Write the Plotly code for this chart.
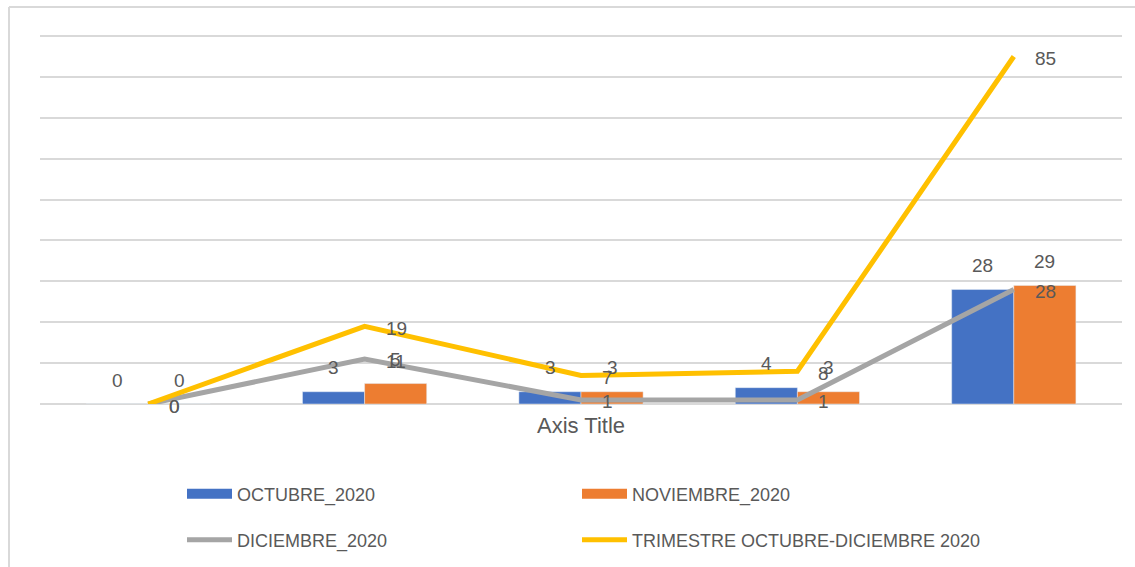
import plotly.graph_objects as go

categories = ["C1", "C2", "C3", "C4", "C5"]
octubre = [0, 3, 3, 4, 28]
noviembre = [0, 5, 3, 3, 29]
diciembre = [0, 11, 1, 1, 28]
trimestre = [0, 19, 7, 8, 85]

names = ["OCTUBRE_2020", "NOVIEMBRE_2020", "DICIEMBRE_2020", "TRIMESTRE OCTUBRE-DICIEMBRE 2020"]
colors = ["#4472C4", "#ED7D31", "#A5A5A5", "#FFC000"]
TXT = "#595959"
FONT = "Liberation Sans"

fig = go.Figure()
fig.add_trace(go.Bar(x=categories, y=octubre, name=names[0], marker_color=colors[0],
                     showlegend=False, legendgroup="oct"))
fig.add_trace(go.Bar(x=categories, y=noviembre, name=names[1], marker_color=colors[1],
                     showlegend=False, legendgroup="nov"))
fig.add_trace(go.Scatter(x=categories, y=diciembre, name=names[2], mode="lines",
                         line=dict(color=colors[2], width=5), showlegend=False, legendgroup="dic"))
fig.add_trace(go.Scatter(x=categories, y=trimestre, name=names[3], mode="lines",
                         line=dict(color=colors[3], width=5), showlegend=False, legendgroup="tri"))

# legend entries (wide swatches like the original), one legend box per entry
leg_ids = ["legend", "legend2", "legend3", "legend4"]
leg_widths = [11, 11, 5, 5]
for nm, col, lw, lid, grp in zip(names, colors, leg_widths, leg_ids, ["oct", "nov", "dic", "tri"]):
    fig.add_trace(go.Scatter(x=[None], y=[None], mode="lines", name=nm, legendgroup=grp,
                             line=dict(color=col, width=lw), legend=lid))

annotations = []
lab_font = dict(family=FONT, size=19, color=TXT)
for vals, xs in [(octubre, -31), (noviembre, 31)]:
    for c, v in zip(categories, vals):
        annotations.append(dict(x=c, y=v, xref="x", yref="y", text=str(v), showarrow=False,
                                xshift=xs, yshift=24, yanchor="middle", font=lab_font))
for vals in [diciembre, trimestre]:
    for c, v in zip(categories, vals):
        annotations.append(dict(x=c, y=v, xref="x", yref="y", text=str(v), showarrow=False,
                                xanchor="left", xshift=19, yshift=-2, yanchor="middle", font=lab_font))

W, H = 1135, 567
L, R, T, B = 40, 13, 34, 163
pw, ph = W - L - R, H - T - B

def px(x):
    return (x - L) / pw

def py(y):
    return (H - B - y) / ph

shapes = [
    dict(type="line", xref="paper", yref="paper", x0=px(9), x1=px(9), y0=py(7), y1=py(567),
         line=dict(color="#D9D9D9", width=2)),
    dict(type="line", xref="paper", yref="paper", x0=px(9), x1=px(1135), y0=py(7), y1=py(7),
         line=dict(color="#D9D9D9", width=2)),
]

leg_common = dict(orientation="h", xanchor="left", yanchor="middle", itemwidth=45,
                  bgcolor="rgba(0,0,0,0)", font=dict(family=FONT, size=18, color=TXT))
leg_pos = [(182, 494), (577, 494), (182, 540), (577, 540)]
legends = {lid: dict(x=px(x), y=py(y), **leg_common) for lid, (x, y) in zip(leg_ids, leg_pos)}

fig.update_layout(
    width=W, height=H,
    margin=dict(l=L, r=R, t=T, b=B, autoexpand=False),
    paper_bgcolor="white", plot_bgcolor="white",
    barmode="group", bargap=0.426, bargroupgap=0,
    xaxis=dict(showticklabels=False, showgrid=False, zeroline=False, showline=False,
               title=dict(text="Axis Title", font=dict(family=FONT, size=22, color=TXT), standoff=13)),
    yaxis=dict(range=[0, 90.5], tick0=0, dtick=10, showticklabels=False, showgrid=True,
               gridcolor="#D9D9D9", gridwidth=2, zeroline=True, zerolinecolor="#D9D9D9",
               zerolinewidth=2),
    annotations=annotations,
    shapes=shapes,
    showlegend=True,
    **legends,
)

fig.write_html("out.html", config={"displayModeBar": False},
               post_script="document.body.style.margin='0';document.body.style.overflow='hidden';")
